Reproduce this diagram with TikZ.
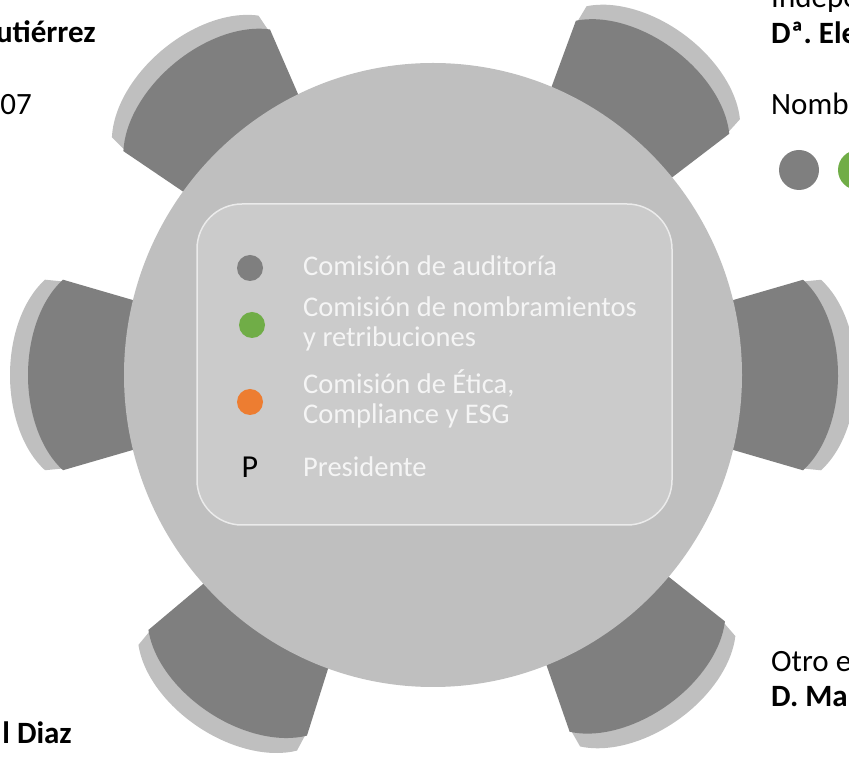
\documentclass[tikz,border=0pt]{standalone}
\usepackage{fontspec}
\setmainfont{Carlito}
\frenchspacing
\definecolor{tablegray}{HTML}{BFBFBF}
\definecolor{seatgray}{HTML}{7F7F7F}
\definecolor{legfill}{HTML}{CBCBCB}
\definecolor{legline}{HTML}{EBEBEB}
\definecolor{dotgray}{HTML}{7F7F7F}
\definecolor{dotgreen}{HTML}{70AD47}
\definecolor{dotorange}{HTML}{ED7D31}
\tikzset{
  outtext/.style={inner sep=0pt, font=\fontsize{31}{35}\selectfont, text=black},
  outbold/.style={outtext, font=\bfseries\fontsize{31}{35}\selectfont},
  legtext/.style={inner sep=0pt, anchor=base west, align=left, font=\fontsize{28.5}{30}\selectfont, text=white!96!black},
  legdot/.style={circle, inner sep=0pt, minimum size=26pt},
  bigdot/.style={circle, inner sep=0pt, minimum size=40pt},
}
\newcommand\drawchair[1]{%
  \begin{scope}[shift={(433,383)}, rotate=#1]
    \fill[tablegray] (365,-93) -- (388,-95.3) arc[start angle=-60, end angle=60, x radius=70, y radius=110] -- (365,93) -- cycle;
    \fill[seatgray] (290,-72) -- (370,-95.3) arc[start angle=-60, end angle=60, x radius=70, y radius=110] -- (290,72) -- cycle;
  \end{scope}}
\begin{document}
\begin{tikzpicture}[x=1pt, y=1pt]
  \useasboundingbox (0,0) rectangle (849,758);
  \clip (0,0) rectangle (849,758);
  % chairs
  \drawchair{180}
  \drawchair{0}
  \drawchair{129.7}
  \drawchair{53.6}
  \drawchair{236.3}
  \drawchair{305.4}
  % table
  \fill[tablegray] (433,383) ellipse [x radius=309, y radius=312];
  % legend
  \node[draw=legline, fill=legfill, rounded corners=45pt, line width=1.5pt,
        minimum width=475pt, minimum height=321pt, inner sep=0pt] (legend) at (434.5,393.5) {};
  \node[legdot, fill=dotgray] (d1) at (250,490) {};
  \node[legdot, fill=dotgreen] (d2) at (252,433) {};
  \node[legdot, fill=dotorange] (d3) at (250,356) {};
  \node[inner sep=0pt, anchor=base, font=\fontsize{32}{32}\selectfont] (pp) at (250,280) {P};
  \node[legtext] (t1) at (303,482) {Comisión de auditoría};
  \node[legtext] (t2) at (303,411) {Comisión de nombramientos\\y retribuciones};
  \node[legtext] (t3) at (303,334) {Comisión de Ética,\\Compliance y ESG};
  \node[legtext] (t4) at (303,281) {Presidente};
  % outer texts, left
  \node[outbold, anchor=base east] (l1) at (96,715) {utiérrez};
  \node[outtext, anchor=base east] (l2) at (32,643) {07};
  \node[outbold, anchor=base east] (l3) at (72,15) {l Diaz};
  % outer texts, right
  \node[outtext, anchor=base west] (r0) at (771,750) {Indepe};
  \node[outbold, anchor=base west] (r1) at (771,714) {Dª. Ele};
  \node[outtext, anchor=base west] (r2) at (771,643) {Nombr};
  \node[bigdot, fill=dotgray] (rd1) at (799,588) {};
  \node[bigdot, fill=dotgreen] (rd2) at (858,588) {};
  \node[outtext, anchor=base west] (r3) at (771,86) {Otro e};
  \node[outbold, anchor=base west] (r4) at (771,51) {D. Ma};
\end{tikzpicture}
\end{document}
